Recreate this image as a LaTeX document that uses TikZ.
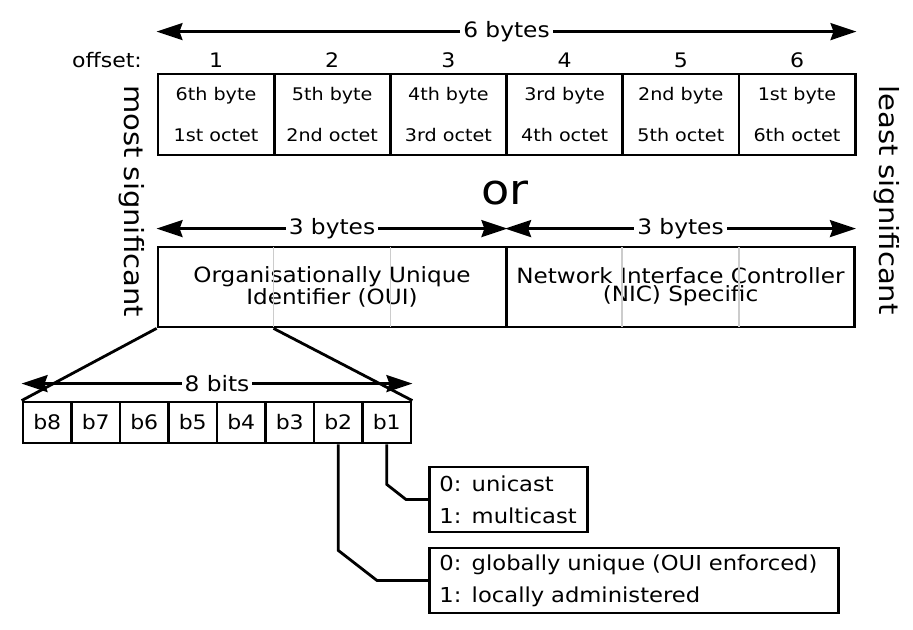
\documentclass[tikz,border=0pt]{standalone}
\usepackage{fontspec}
\setmainfont{DejaVu Sans}[FakeStretch=1.1]
\usetikzlibrary{arrows.meta,calc}

\begin{document}
\begin{tikzpicture}[x=0.5pt,y=-0.5pt,line width=1.4pt,
    cell/.style={draw,minimum width=58.1pt,minimum height=40.5pt,inner sep=0pt,align=center,font=\fontsize{8.7}{20.5}\selectfont},
    bit/.style={draw,minimum width=24.25pt,minimum height=20.5pt,inner sep=0pt,font=\fontsize{10}{12}\selectfont},
    field/.style={draw,minimum width=174pt,minimum height=40pt,inner sep=0pt,align=center,font=\fontsize{10.5}{9}\selectfont},
    legend/.style={draw,anchor=west,align=left,inner xsep=5pt,inner ysep=0pt,minimum height=32.5pt,font=\fontsize{10.3}{16}\selectfont},
    dim/.style={arrows={Stealth[length=13pt,width=8.5pt,inset=1.5pt]-Stealth[length=13pt,width=8.5pt,inset=1.5pt]},line width=1.25pt},
    lbl/.style={fill=white,inner sep=1.5pt,font=\fontsize{10.6}{12}\selectfont},
    num/.style={font=\fontsize{10}{12}\selectfont},
    divider/.style={line width=0.7pt,black!20,shorten <=0.7pt,shorten >=0.7pt},
    side/.style={rotate=-90,font=\fontsize{13.2}{16}\selectfont}]
    \useasboundingbox (0,0) rectangle (913,630);

    % Six bytes of the address
    \node[cell] (c1) at (216,114.5) {6th byte\\1st octet};
    \node[cell] (c2) at (332.2,114.5) {5th byte\\2nd octet};
    \node[cell] (c3) at (448.4,114.5) {4th byte\\3rd octet};
    \node[cell] (c4) at (564.6,114.5) {3rd byte\\4th octet};
    \node[cell] (c5) at (680.8,114.5) {2nd byte\\5th octet};
    \node[cell] (c6) at (797,114.5) {1st byte\\6th octet};

    \node[num] (offs) at (107,60) {offset:};
    \node[num] (o1) at (216,60) {1};
    \node[num] (o2) at (332.2,60) {2};
    \node[num] (o3) at (448.4,60) {3};
    \node[num] (o4) at (564.6,60) {4};
    \node[num] (o5) at (680.8,60) {5};
    \node[num] (o6) at (797,60) {6};

    \draw[dim] ([yshift=20.5pt]c1.north west) -- node[lbl] (six) {6 bytes} ([yshift=20.5pt]c6.north east);

    \node[font=\fontsize{21}{25}\selectfont] (or) at (505,193) {or};

    % OUI and NIC halves
    \node[field] (oui) at (332,287) {Organisationally Unique\\Identifier (OUI)};
    \node[field] (nic) at (680.5,287) {Network Interface Controller\\(NIC) Specific};
    \draw[divider] ($(oui.north west)!1/3!(oui.north east)$) -- ($(oui.south west)!1/3!(oui.south east)$);
    \draw[divider] ($(oui.north west)!2/3!(oui.north east)$) -- ($(oui.south west)!2/3!(oui.south east)$);
    \draw[divider] ($(nic.north west)!1/3!(nic.north east)$) -- ($(nic.south west)!1/3!(nic.south east)$);
    \draw[divider] ($(nic.north west)!2/3!(nic.north east)$) -- ($(nic.south west)!2/3!(nic.south east)$);

    \draw[dim] ([yshift=8.5pt]oui.north west) -- node[lbl] (ouib) {3 bytes} ([yshift=8.5pt]oui.north east);
    \draw[dim] ([yshift=8.5pt]nic.north west) -- node[lbl] (nicb) {3 bytes} ([yshift=8.5pt]nic.north east);

    \node[side] (msb) at (132,201) {most significant};
    \node[side] (lsb) at (887,200) {least significant};

    % Bits of the first octet
    \node[bit] (b8) at (47.25,422.5) {b8};
    \node[bit] (b7) at (95.75,422.5) {b7};
    \node[bit] (b6) at (144.25,422.5) {b6};
    \node[bit] (b5) at (192.75,422.5) {b5};
    \node[bit] (b4) at (241.25,422.5) {b4};
    \node[bit] (b3) at (289.75,422.5) {b3};
    \node[bit] (b2) at (338.25,422.5) {b2};
    \node[bit] (b1) at (386.75,422.5) {b1};

    \draw (oui.south west) -- (b8.north west);
    \draw ($(oui.south west)!1/3!(oui.south east)$) -- (b1.north east);
    \draw[dim] ([yshift=8.5pt]b8.north west) -- node[lbl] (eight) {8 bits} ([yshift=8.5pt]b1.north east);

    % Meaning of b1 and b2
    \node[legend,text width=69pt] (cast) at (428,499.5) {0: unicast\\1: multicast};
    \node[legend,text width=194.5pt] (admin) at (428,580.5) {0: globally unique (OUI enforced)\\1: locally administered};

    \draw (b1.south) -- ++(0,40) -- ([xshift=-11pt]cast.west) -- (cast.west);
    \draw (b2.south) -- ++(0,106) -- ([xshift=-25.5pt]admin.west) -- (admin.west);
\end{tikzpicture}
\end{document}
